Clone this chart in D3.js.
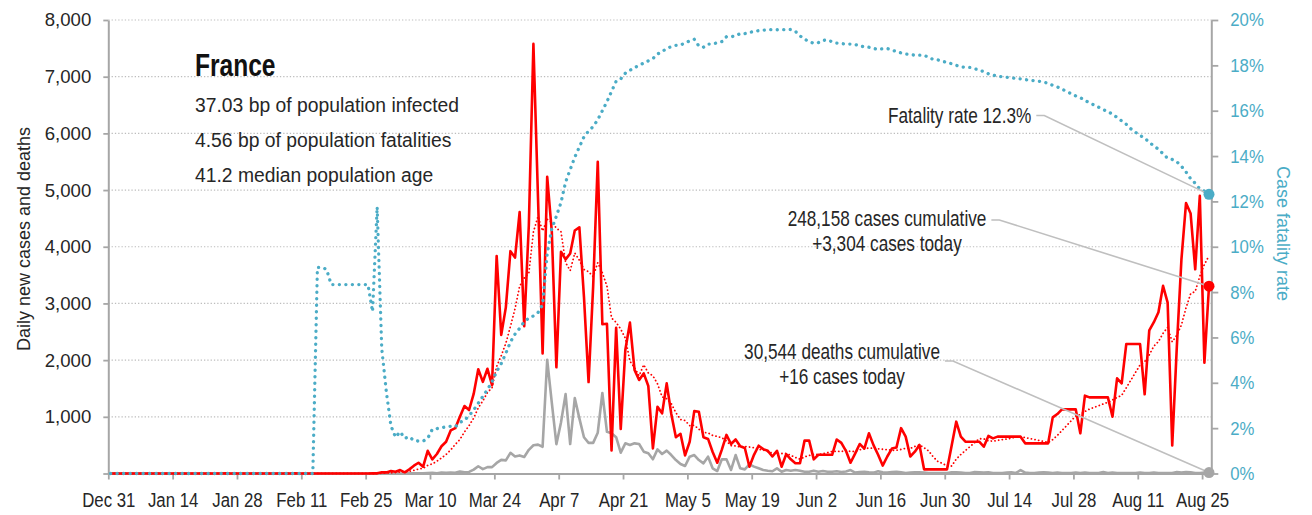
<!DOCTYPE html>
<html>
<head>
<meta charset="utf-8">
<script src="https://cdn.jsdelivr.net/npm/d3@7"></script>
<style>
body { margin: 0; background: #fff; }
svg text { font-family: "Liberation Sans", Arial, sans-serif; fill: #262626; }
</style>
</head>
<body>
<svg id="chart" width="1312" height="515"></svg>
<script>
// one value per day, Dec 31 2019 .. Aug 26 2020
var startDay = "2019-12-31";

var cases = [
    0, 0, 0, 0, 0, 0, 0, 0, 0, 0, 0, 0, 0, 0, 0, 0, 0, 0, 0, 0, 0, 0, 0, 0, 0,
    3, 0, 0, 0, 1, 0, 1, 1, 0, 0, 0, 0, 0, 0, 0, 5, 0, 0, 0, 0, 0, 0, 1,
    0, 0, 0, 0, 0, 0, 0, 0, 0, 2, 3, 21, 19,
    43, 30, 61, 21, 73, 138, 190, 120, 400, 250,
    344, 480, 560, 760, 800, 1000, 1190, 1120, 1404, 1840,
    1617, 1847, 1559, 3838, 2446, 2931, 3922, 3809, 4611, 2599,
    4376, 7578, 4861, 2116, 5233, 4267, 1873, 3912, 3777, 3881,
    4286, 4342, 3114, 1613, 3300, 5497, 2633, 2641, 405, 2569,
    785, 2178, 2661, 1826, 1649, 1766, 1543, 444, 1178, 1061,
    1590, 1050, 640, 700, 320, 560, 1100, 1090, 640, 610,
    380, 190, 420, 680, 520, 600, 480, 450, 120, 330,
    490, 430, 400, 300, 400, 120, 340, 250, 180, 180,
    580, 580, 250, 330, 330, 330, 330, 600, 540, 400,
    190, 350, 520, 440, 710, 500, 330, 140, 300, 440,
    460, 800, 650, 300, 385, 503, 73, 73, 73, 73,
    73, 73, 490, 914, 650, 561, 561, 561, 561, 473,
    662, 620, 650, 650, 650, 650, 650, 650, 532, 532,
    532, 532, 532, 532, 990, 1049, 1132, 1132, 1132, 1132,
    709, 1373, 1343, 1343, 1343, 1343, 1343, 1002, 1679, 1590,
    2284, 2284, 2284, 2284, 1397, 2524, 2669, 2846, 3310, 3015,
    493, 2238, 3776, 4771, 4586, 3602, 4897, 1955, 3304
];

var deaths = [
    0, 0, 0, 0, 0, 0, 0, 0, 0, 0, 0, 0, 0, 0, 0, 0, 0, 0, 0, 0, 0, 0, 0,
    0, 0, 0, 0, 0, 0, 0, 0, 0, 0, 0, 0, 0, 0, 0, 0, 0, 0, 0, 0, 0, 0,
    1, 0, 0, 0, 0, 0, 0, 0, 0, 0, 0, 0, 1, 0, 0, 0,
    0, 0, 1, 1, 2, 2, 3, 2, 9, 11,
    3, 15, 13, 18, 12, 36, 21, 27, 69, 128,
    78, 112, 112, 186, 240, 231, 365, 299, 319, 292,
    418, 499, 509, 471, 2004, 1250, 518, 900, 1400, 520,
    1330, 973, 640, 540, 540, 720, 1420, 735, 710, 640,
    367, 532, 503, 532, 520, 385, 356, 250, 426, 344,
    403, 326, 238, 168, 132, 297, 326, 238, 179, 297,
    91, 44, 250, 250, 62, 326, 91, 73, 162, 121,
    91, 62, 50, 40, 91, 30, 62, 50, 62, 50,
    30, 30, 50, 30, 45, 30, 30, 40, 25, 35,
    60, 15, 25, 30, 20, 15, 40, 20, 15, 25,
    30, 20, 10, 15, 20, 20, 15, 10, 10, 10,
    10, 10, 20, 20, 15, 10, 10, 25, 20, 15,
    20, 10, 10, 10, 15, 20, 10, 60, 15, 10,
    10, 15, 20, 15, 10, 15, 10, 10, 10, 15,
    10, 15, 10, 10, 10, 25, 10, 15, 10, 10,
    10, 10, 10, 15, 10, 10, 15, 10, 10, 10,
    10, 25, 15, 25, 20, 10, 10, 15, 16
];

// case fatality rate, percent
var fatalityRate = [
    0, 0, 0, 0, 0, 0, 0, 0, 0, 0, 0, 0, 0, 0, 0, 0, 0, 0, 0, 0, 0, 0, 0,
    0, 0, 0, 0, 0, 0, 0, 0, 0, 0, 0, 0, 0, 0, 0, 0, 0, 0, 0, 0, 0, 0,
    9.09, 9.09, 9.0, 8.33, 8.33, 8.33, 8.33, 8.33, 8.33, 8.33, 8.33, 8.33, 7.14, 11.76, 5.5, 3.6,
    2.1, 1.6, 1.84, 1.55, 1.62, 1.45, 1.43, 1.43, 1.55, 1.95,
    1.98, 2.02, 2.06, 2.08, 2.06, 2.25, 2.35, 2.55, 2.8, 3.1,
    3.4, 3.7, 4.05, 4.5, 4.85, 5.3, 5.8, 6.15, 6.4, 6.7,
    6.85, 6.95, 7.1, 7.45, 9.7, 10.8, 11.35, 11.95, 12.85, 13.4,
    13.95, 14.4, 14.85, 15.1, 15.3, 15.6, 16.0, 16.4, 16.85, 17.3,
    17.4, 17.65, 17.78, 17.9, 18.0, 18.1, 18.2, 18.3, 18.5, 18.6,
    18.75, 18.82, 18.88, 18.9, 18.98, 19.08, 19.15, 18.85, 18.8, 18.94,
    18.94, 19.0, 19.05, 19.26, 19.26, 19.3, 19.4, 19.4, 19.45, 19.5,
    19.53, 19.55, 19.57, 19.58, 19.57, 19.57, 19.58, 19.58, 19.5, 19.3,
    19.15, 19.05, 18.97, 19.0, 19.1, 19.12, 19.04, 18.98, 18.96, 18.94,
    18.94, 18.92, 18.85, 18.82, 18.8, 18.75, 18.7, 18.73, 18.74, 18.68,
    18.6, 18.55, 18.5, 18.47, 18.45, 18.45, 18.45, 18.35, 18.26, 18.24,
    18.18, 18.13, 18.07, 18.0, 17.94, 17.91, 17.91, 17.85, 17.79, 17.72,
    17.63, 17.57, 17.52, 17.5, 17.47, 17.45, 17.42, 17.4, 17.37, 17.35,
    17.32, 17.3, 17.27, 17.2, 17.12, 17.05, 16.95, 16.85, 16.75, 16.65,
    16.58, 16.45, 16.35, 16.25, 16.15, 16.05, 15.95, 15.85, 15.7, 15.55,
    15.4, 15.2, 15.05, 14.9, 14.8, 14.6, 14.45, 14.3, 14.1, 13.9,
    13.85, 13.75, 13.55, 13.3, 13.0, 12.8, 12.55, 12.45, 12.31
];

var dateTicks = ["2019-12-31", "2020-01-14", "2020-01-28", "2020-02-11", "2020-02-25", "2020-03-10",
                 "2020-03-24", "2020-04-07", "2020-04-21", "2020-05-05", "2020-05-19", "2020-06-02",
                 "2020-06-16", "2020-06-30", "2020-07-14", "2020-07-28", "2020-08-11", "2020-08-25"];
var countTicks = [0, 1000, 2000, 3000, 4000, 5000, 6000, 7000, 8000];
var rateTicks = [0, 2, 4, 6, 8, 10, 12, 14, 16, 18, 20];

var country = "France";
var facts = ["37.03 bp of population infected", "4.56 bp of population fatalities", "41.2 median population age"];
var totalCases = 248158, totalDeaths = 30544;

var RED = "#ff0000", GREY = "#a6a6a6", BLUE = "#4bacc6", AXIS = "#a6a6a6";

var svg = d3.select("#chart");
var parse = d3.utcParse("%Y-%m-%d");
var start = parse(startDay);
var n = cases.length;

var x = d3.scaleUtc()
    .domain([start, d3.utcDay.offset(start, n)])
    .range([108.3, 1211.3]);
var y = d3.scaleLinear().domain([0, 8000]).range([473.5, 20]);
var yRate = d3.scaleLinear().domain([0, 20]).range([473.5, 20]);

// each value sits in the middle of its day
function dayX(i) { return x(new Date(start.getTime() + (i + 0.5) * 864e5)); }

// 7 day trailing average of cases
var avg7 = cases.map(function(v, i) {
    return d3.mean(cases.slice(Math.max(0, i - 6), i + 1));
});

// no narrow font installed: squeeze text horizontally
function narrow(sel, x, y, size, sx) {
    return sel
        .attr("x", 0)
        .attr("y", 0)
        .attr("transform", "translate(" + x + "," + y + ") scale(" + sx + ",1)")
        .style("font-size", size + "px");
}

// grid
svg.append("g")
    .selectAll("line")
    .data(countTicks.filter(function(d) { return d > 0; }))
    .enter()
    .append("line")
    .attr("x1", x.range()[0])
    .attr("x2", x.range()[1])
    .attr("y1", function(d) { return y(d); })
    .attr("y2", function(d) { return y(d); })
    .attr("stroke", "#bdbdbd")
    .attr("stroke-width", 1.2)
    .attr("stroke-dasharray", "1.3,2");

// axes
function styleAxis(g, size, color, sx) {
    g.select(".domain").attr("stroke", AXIS).attr("stroke-width", 2);
    g.selectAll(".tick line").attr("stroke", AXIS).attr("stroke-width", 1.8);
    g.selectAll(".tick text")
        .style("font-size", size + "px")
        .style("fill", color)
        .attr("x", function() { return (+d3.select(this).attr("x") || 0) / sx; })
        .attr("transform", "scale(" + sx + ",1)");
}

svg.append("g")
    .attr("transform", "translate(108.3,0)")
    .call(d3.axisLeft(y)
        .tickValues(countTicks)
        .tickSize(5)
        .tickSizeOuter(0)
        .tickPadding(12)
        .tickFormat(function(d) { return d === 0 ? "" : d3.format(",")(d); }))
    .call(styleAxis, 18.6, "#262626", 1);

svg.append("g")
    .attr("transform", "translate(1211.3,0)")
    .call(d3.axisRight(yRate)
        .tickValues(rateTicks)
        .tickSize(7)
        .tickSizeOuter(0)
        .tickPadding(12)
        .tickFormat(function(d) { return d + "%"; }))
    .call(styleAxis, 18.6, BLUE, 0.9);

svg.append("g")
    .attr("transform", "translate(0,473.5)")
    .call(d3.axisBottom(x)
        .tickValues(dateTicks.map(parse))
        .tickSize(6)
        .tickSizeOuter(0)
        .tickPadding(13)
        .tickFormat(d3.utcFormat("%b %-d")))
    .call(styleAxis, 21, "#262626", 0.8);

// axis titles
svg.append("text")
    .attr("transform", "translate(29.5,239) rotate(-90)")
    .attr("text-anchor", "middle")
    .style("font-size", "18px")
    .text("Daily new cases and deaths");

svg.append("text")
    .attr("transform", "translate(1276.5,233.5) rotate(90)")
    .attr("text-anchor", "middle")
    .style("font-size", "18px")
    .style("fill", BLUE)
    .text("Case fatality rate");

// series
function drawLine(values, scale, color, width, dash) {
    var line = d3.line()
        .x(function(d, i) { return dayX(i); })
        .y(function(d) { return scale(d); });
    var p = svg.append("path")
        .datum(values)
        .attr("d", line)
        .attr("fill", "none")
        .attr("stroke", color)
        .attr("stroke-width", width)
        .attr("stroke-linejoin", "round");
    if (dash) {
        p.attr("stroke-dasharray", dash).attr("stroke-linecap", "round");
    }
    return p;
}

drawLine(deaths, y, GREY, 2.6);
drawLine(cases, y, RED, 2.6);
drawLine(avg7, y, RED, 1.8, "0.1,3.6");
drawLine(fatalityRate, yRate, BLUE, 3.3, "0.1,6.4");

// title block
svg.append("text")
    .call(narrow, 195, 76, 31.5, 0.78)
    .style("font-weight", "bold")
    .style("fill", "#111")
    .text(country);

facts.forEach(function(t, i) {
    svg.append("text")
        .call(narrow, 195, 111.5 + i * 35.3, 21, 0.92)
        .text(t);
});

// callouts with leader lines to the last values
var last = n - 1;
var fmt = d3.format(",");
var SQ = 0.8;

function callout(lines, tx, ty, anchor, leadDy, px, py, color) {
    var first;
    lines.forEach(function(t, i) {
        var el = svg.append("text")
            .call(narrow, tx, ty + i * 25, 21.5, SQ)
            .attr("text-anchor", anchor)
            .text(t);
        if (i === 0) first = el;
    });
    var w = first.node().getComputedTextLength() * SQ;
    var right = anchor === "middle" ? tx + w / 2 : tx + w;
    var sx = right + 5, sy = ty + leadDy;
    svg.append("path")
        .attr("d", "M" + sx + "," + sy + "H" + (sx + 8) + "L" + px + "," + py)
        .attr("fill", "none")
        .attr("stroke", "#bfbfbf")
        .attr("stroke-width", 1.6);
    svg.append("circle")
        .attr("cx", px)
        .attr("cy", py)
        .attr("r", 5.5)
        .attr("fill", color);
}

callout(["Fatality rate " + fatalityRate[last].toFixed(1) + "%"], 888, 123, "start", -7.5,
    dayX(last), yRate(fatalityRate[last]), BLUE);
callout([fmt(totalCases) + " cases cumulative", "+" + fmt(cases[last]) + " cases today"], 887, 226, "middle", -6,
    dayX(last), y(cases[last]), RED);
callout([fmt(totalDeaths) + " deaths cumulative", "+" + fmt(deaths[last]) + " cases today"], 842, 359, "middle", 2,
    dayX(last), y(deaths[last]), GREY);
</script>
</body>
</html>
